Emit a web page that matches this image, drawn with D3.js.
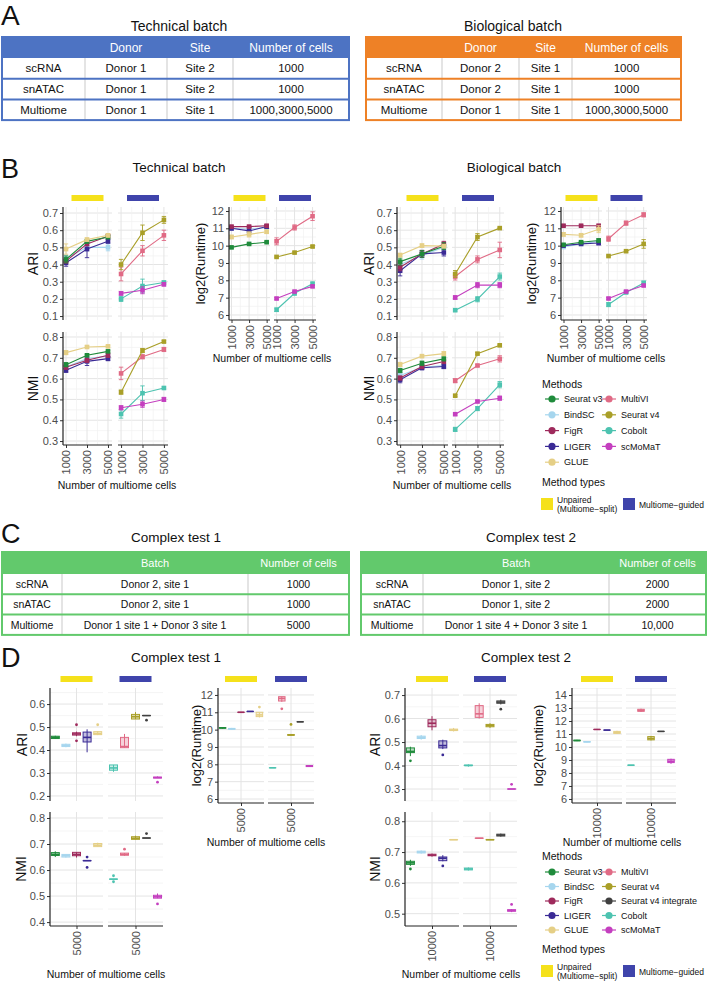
<!DOCTYPE html>
<html>
<head>
<meta charset="utf-8">
<script src="https://cdn.jsdelivr.net/npm/d3@7"></script>
<style>
  body { margin: 0; background: #fff; }
  svg text { font-family: "Liberation Sans", Arial, sans-serif; }
</style>
</head>
<body>
<div id="vis"></div>
<script>
// Multi-panel benchmark figure: tables (A, C), line charts with error bars (B), box plots (D).

// ── Data ──────────────────────────────────────────────────────────────────

const cellCounts = [1000, 3000, 5000];

const unpairedMethods = ["BindSC", "LIGER", "FigR", "Seurat v3", "GLUE"];
const guidedMethods   = ["Cobolt", "scMoMaT", "MultiVI", "Seurat v4"];
const boxUnpaired     = ["Seurat v3", "BindSC", "FigR", "LIGER", "GLUE"];
const boxGuided       = ["Cobolt", "MultiVI", "Seurat v4", "Seurat v4 integrate", "scMoMaT"];

const legendCol1  = ["Seurat v3", "BindSC", "FigR", "LIGER", "GLUE"];
const legendCol2B = ["MultiVI", "Seurat v4", "Cobolt", "scMoMaT"];
const legendCol2D = ["MultiVI", "Seurat v4", "Seurat v4 integrate", "Cobolt", "scMoMaT"];

const tableHeaderA = ["", "Donor", "Site", "Number of cells"];
const techTableRows = [
  ["scRNA", "Donor 1", "Site 2", "1000"],
  ["snATAC", "Donor 1", "Site 2", "1000"],
  ["Multiome", "Donor 1", "Site 1", "1000,3000,5000"],
];
const bioTableRows = [
  ["scRNA", "Donor 2", "Site 1", "1000"],
  ["snATAC", "Donor 2", "Site 1", "1000"],
  ["Multiome", "Donor 1", "Site 1", "1000,3000,5000"],
];
const tableHeaderC = ["", "Batch", "Number of cells"];
const complex1Rows = [
  ["scRNA", "Donor 2, site 1", "1000"],
  ["snATAC", "Donor 2, site 1", "1000"],
  ["Multiome", "Donor 1 site 1 + Donor 3 site 1", "5000"],
];
const complex2Rows = [
  ["scRNA", "Donor 1, site 2", "2000"],
  ["snATAC", "Donor 1, site 2", "2000"],
  ["Multiome", "Donor 1 site 4 + Donor 3 site 1", "10,000"],
];

// B: mean values at 1000 / 3000 / 5000 multiome cells, and error half-widths
const techARI = {
  "Seurat v3": [0.43, 0.535, 0.56], "BindSC": [0.435, 0.50, 0.50], "FigR": [0.42, 0.52, 0.565],
  "LIGER": [0.41, 0.49, 0.535], "GLUE": [0.49, 0.545, 0.57],
  "MultiVI": [0.345, 0.48, 0.57], "Seurat v4": [0.40, 0.585, 0.66],
  "Cobolt": [0.20, 0.275, 0.295], "scMoMaT": [0.232, 0.25, 0.285],
};
const techARIErr = {
  "Seurat v3": [0.02, 0.01, 0.01], "BindSC": [0.02, 0.02, 0.02], "FigR": [0.01, 0.01, 0.01],
  "LIGER": [0.02, 0.05, 0.01], "GLUE": [0.03, 0.01, 0.01],
  "MultiVI": [0.04, 0.03, 0.03], "Seurat v4": [0.03, 0.045, 0.02],
  "Cobolt": [0.015, 0.04, 0.01], "scMoMaT": [0.01, 0.02, 0.01],
};
const techNMI = {
  "Seurat v3": [0.667, 0.712, 0.731], "BindSC": [0.656, 0.696, 0.709], "FigR": [0.655, 0.688, 0.712],
  "LIGER": [0.64, 0.683, 0.696], "GLUE": [0.725, 0.752, 0.755],
  "MultiVI": [0.625, 0.705, 0.74], "Seurat v4": [0.535, 0.735, 0.778],
  "Cobolt": [0.43, 0.53, 0.555], "scMoMaT": [0.46, 0.477, 0.50],
};
const techNMIErr = {
  "Seurat v3": [0.01, 0.005, 0.005], "BindSC": [0.01, 0.02, 0.01], "FigR": [0.01, 0.01, 0.01],
  "LIGER": [0.01, 0.02, 0.01], "GLUE": [0.01, 0.005, 0.005],
  "MultiVI": [0.03, 0.01, 0.01], "Seurat v4": [0.01, 0.01, 0.005],
  "Cobolt": [0.02, 0.035, 0.005], "scMoMaT": [0.01, 0.015, 0.01],
};
const techRuntime = {
  "Seurat v3": [9.9, 10.1, 10.2], "BindSC": [11.0, 10.95, 11.05], "FigR": [11.1, 11.1, 11.15],
  "LIGER": [11.0, 10.85, 11.1], "GLUE": [10.5, 10.65, 10.8],
  "MultiVI": [10.25, 11.05, 11.7], "Seurat v4": [9.35, 9.6, 9.95],
  "Cobolt": [6.3, 7.25, 7.8], "scMoMaT": [6.95, 7.35, 7.65],
};
const techRuntimeErr = {
  "Seurat v3": [0.05, 0.05, 0.05], "BindSC": [0.05, 0.05, 0.05], "FigR": [0.05, 0.05, 0.05],
  "LIGER": [0.1, 0.2, 0.1], "GLUE": [0.1, 0.15, 0.1],
  "MultiVI": [0.2, 0.15, 0.25], "Seurat v4": [0.05, 0.05, 0.05],
  "Cobolt": [0.1, 0.1, 0.1], "scMoMaT": [0.05, 0.05, 0.05],
};
const bioARI = {
  "Seurat v3": [0.417, 0.462, 0.507], "BindSC": [0.40, 0.452, 0.50], "FigR": [0.384, 0.462, 0.52],
  "LIGER": [0.364, 0.462, 0.47], "GLUE": [0.455, 0.51, 0.507],
  "MultiVI": [0.33, 0.43, 0.485], "Seurat v4": [0.345, 0.56, 0.612],
  "Cobolt": [0.134, 0.198, 0.33], "scMoMaT": [0.208, 0.28, 0.28],
};
const bioARIErr = {
  "Seurat v3": [0.02, 0.02, 0.02], "BindSC": [0.02, 0.02, 0.01], "FigR": [0.02, 0.02, 0.015],
  "LIGER": [0.03, 0.02, 0.02], "GLUE": [0.01, 0.01, 0.01],
  "MultiVI": [0.02, 0.02, 0.045], "Seurat v4": [0.02, 0.02, 0.005],
  "Cobolt": [0.005, 0.015, 0.02], "scMoMaT": [0.01, 0.015, 0.015],
};
const bioNMI = {
  "Seurat v3": [0.639, 0.674, 0.695], "BindSC": [0.615, 0.655, 0.663], "FigR": [0.603, 0.658, 0.682],
  "LIGER": [0.595, 0.652, 0.658], "GLUE": [0.668, 0.708, 0.72],
  "MultiVI": [0.59, 0.663, 0.695], "Seurat v4": [0.518, 0.72, 0.76],
  "Cobolt": [0.356, 0.456, 0.571], "scMoMaT": [0.429, 0.49, 0.506],
};
const bioNMIErr = {
  "Seurat v3": [0.01, 0.01, 0.01], "BindSC": [0.01, 0.01, 0.01], "FigR": [0.01, 0.01, 0.01],
  "LIGER": [0.015, 0.01, 0.01], "GLUE": [0.01, 0.005, 0.01],
  "MultiVI": [0.01, 0.005, 0.015], "Seurat v4": [0.005, 0.005, 0.005],
  "Cobolt": [0.01, 0.01, 0.015], "scMoMaT": [0.005, 0.005, 0.01],
};
const bioRuntime = {
  "Seurat v3": [10.05, 10.2, 10.3], "BindSC": [9.92, 10.1, 10.25], "FigR": [11.15, 11.15, 11.15],
  "LIGER": [10.0, 10.1, 10.15], "GLUE": [10.65, 10.6, 10.95],
  "MultiVI": [10.4, 11.3, 11.78], "Seurat v4": [9.4, 9.68, 10.1],
  "Cobolt": [6.6, 7.3, 7.85], "scMoMaT": [6.95, 7.35, 7.7],
};
const bioRuntimeErr = {
  "Seurat v3": [0.05, 0.05, 0.1], "BindSC": [0.05, 0.05, 0.05], "FigR": [0.05, 0.05, 0.05],
  "LIGER": [0.05, 0.05, 0.1], "GLUE": [0.1, 0.1, 0.2],
  "MultiVI": [0.15, 0.12, 0.12], "Seurat v4": [0.05, 0.05, 0.25],
  "Cobolt": [0.12, 0.05, 0.1], "scMoMaT": [0.05, 0.05, 0.05],
};

// D: box statistics [low whisker, q1, median, q3, high whisker, outliers]
const c1ARI = {
  "Seurat v3": [0.448, 0.45, 0.455, 0.46, 0.462, []],
  "BindSC": [0.412, 0.415, 0.42, 0.425, 0.428, []],
  "FigR": [0.46, 0.465, 0.47, 0.475, 0.48, [0.51, 0.44]],
  "LIGER": [0.39, 0.435, 0.455, 0.478, 0.49, []],
  "GLUE": [0.465, 0.467, 0.472, 0.48, 0.482, [0.51]],
  "Cobolt": [0.305, 0.312, 0.322, 0.335, 0.335, []],
  "MultiVI": [0.41, 0.41, 0.415, 0.455, 0.47, []],
  "Seurat v4": [0.535, 0.535, 0.545, 0.555, 0.565, []],
  "Seurat v4 integrate": [0.55, 0.55, 0.55, 0.55, 0.55, [0.53]],
  "scMoMaT": [0.278, 0.278, 0.28, 0.282, 0.285, [0.26]],
};
const c1NMI = {
  "Seurat v3": [0.65, 0.656, 0.66, 0.667, 0.672, []],
  "BindSC": [0.648, 0.65, 0.655, 0.66, 0.66, []],
  "FigR": [0.648, 0.655, 0.66, 0.668, 0.668, []],
  "LIGER": [0.636, 0.636, 0.636, 0.636, 0.636, [0.65, 0.61]],
  "GLUE": [0.69, 0.69, 0.695, 0.702, 0.705, []],
  "Cobolt": [0.565, 0.565, 0.565, 0.565, 0.565, [0.578, 0.555]],
  "MultiVI": [0.655, 0.657, 0.66, 0.665, 0.665, [0.68]],
  "Seurat v4": [0.718, 0.718, 0.722, 0.728, 0.732, []],
  "Seurat v4 integrate": [0.723, 0.723, 0.723, 0.723, 0.723, [0.74]],
  "scMoMaT": [0.492, 0.492, 0.497, 0.503, 0.51, [0.47]],
};
const c1Runtime = {
  "Seurat v3": [10.05, 10.08, 10.1, 10.12, 10.15, []],
  "BindSC": [10.0, 10.02, 10.05, 10.07, 10.1, []],
  "FigR": [11.0, 11.0, 11.0, 11.0, 11.0, []],
  "LIGER": [11.05, 11.05, 11.05, 11.05, 11.05, []],
  "GLUE": [10.7, 10.75, 10.85, 11.0, 11.0, [11.3]],
  "Cobolt": [7.8, 7.8, 7.8, 7.8, 7.8, []],
  "MultiVI": [11.6, 11.65, 11.8, 11.9, 11.9, [11.2]],
  "Seurat v4": [9.65, 9.67, 9.7, 9.72, 9.75, [10.3]],
  "Seurat v4 integrate": [10.45, 10.45, 10.45, 10.45, 10.45, []],
  "scMoMaT": [7.85, 7.87, 7.9, 7.93, 7.95, []],
};
const c2ARI = {
  "Seurat v3": [0.44, 0.455, 0.46, 0.475, 0.48, [0.42]],
  "BindSC": [0.51, 0.515, 0.52, 0.525, 0.53, []],
  "FigR": [0.55, 0.565, 0.58, 0.595, 0.61, []],
  "LIGER": [0.47, 0.475, 0.485, 0.505, 0.51, [0.445]],
  "GLUE": [0.545, 0.55, 0.55, 0.555, 0.56, []],
  "Cobolt": [0.395, 0.40, 0.40, 0.402, 0.405, []],
  "MultiVI": [0.60, 0.605, 0.62, 0.655, 0.665, []],
  "Seurat v4": [0.56, 0.565, 0.57, 0.575, 0.58, []],
  "Seurat v4 integrate": [0.66, 0.665, 0.67, 0.675, 0.68, [0.64]],
  "scMoMaT": [0.30, 0.30, 0.30, 0.30, 0.30, [0.32]],
};
const c2NMI = {
  "Seurat v3": [0.655, 0.66, 0.665, 0.67, 0.675, [0.645]],
  "BindSC": [0.695, 0.697, 0.70, 0.703, 0.705, []],
  "FigR": [0.685, 0.688, 0.69, 0.693, 0.695, []],
  "LIGER": [0.67, 0.672, 0.68, 0.684, 0.69, [0.655]],
  "GLUE": [0.74, 0.74, 0.74, 0.74, 0.74, []],
  "Cobolt": [0.64, 0.642, 0.645, 0.648, 0.65, []],
  "MultiVI": [0.745, 0.745, 0.745, 0.745, 0.745, []],
  "Seurat v4": [0.74, 0.74, 0.74, 0.74, 0.74, []],
  "Seurat v4 integrate": [0.75, 0.752, 0.755, 0.758, 0.76, []],
  "scMoMaT": [0.505, 0.508, 0.51, 0.513, 0.515, [0.53]],
};
const c2Runtime = {
  "Seurat v3": [10.45, 10.48, 10.5, 10.52, 10.55, []],
  "BindSC": [10.35, 10.38, 10.4, 10.42, 10.45, []],
  "FigR": [11.35, 11.35, 11.35, 11.35, 11.35, []],
  "LIGER": [11.3, 11.3, 11.3, 11.3, 11.3, []],
  "GLUE": [11.0, 11.05, 11.1, 11.2, 11.25, []],
  "Cobolt": [8.6, 8.6, 8.6, 8.6, 8.6, []],
  "MultiVI": [12.7, 12.75, 12.8, 12.9, 12.95, []],
  "Seurat v4": [10.5, 10.55, 10.65, 10.8, 10.85, []],
  "Seurat v4 integrate": [11.2, 11.2, 11.2, 11.2, 11.2, []],
  "scMoMaT": [8.7, 8.8, 8.9, 9.05, 9.1, []],
};

const ariTicksB = [0.1, 0.2, 0.3, 0.4, 0.5, 0.6, 0.7];
const nmiTicksB = [0.3, 0.4, 0.5, 0.6, 0.7, 0.8];
const runtimeTicks = [6, 7, 8, 9, 10, 11, 12];
const ariTicksD1 = [0.2, 0.3, 0.4, 0.5, 0.6];
const nmiTicksD1 = [0.4, 0.5, 0.6, 0.7, 0.8];
const ariTicksD2 = [0.3, 0.4, 0.5, 0.6, 0.7];
const nmiTicksD2 = [0.5, 0.6, 0.7, 0.8];
const runtimeTicksD2 = [6, 7, 8, 9, 10, 11, 12, 13, 14];

// ── Styles ────────────────────────────────────────────────────────────────

const methodColor = {
  "Seurat v3": "#1f8b3b", "BindSC": "#a6d6ee", "FigR": "#9e2a5c", "LIGER": "#3a2a95",
  "GLUE": "#e5cf86", "MultiVI": "#e06a85", "Seurat v4": "#a99f28",
  "Seurat v4 integrate": "#404040", "Cobolt": "#4dc3b0", "scMoMaT": "#c43fbf",
};
const YELLOW = "#f5e11b", BLUE = "#3f44ab";
const GRID = "#e4e4e4", GRID_MINOR = "#f1f1f1", TICK_TEXT = "#4d4d4d";

const W = 708, H = 995;
const svg = d3.select("#vis").append("svg").attr("width", W).attr("height", H);

function label(x, y, txt, size, opts = {}) {
  const t = svg.append("text").attr("x", x).attr("y", y)
    .attr("font-size", size).attr("fill", opts.fill || "#111")
    .attr("text-anchor", opts.anchor || "middle").text(txt);
  if (opts.rotate) t.attr("transform", `rotate(-90,${x},${y})`);
  return t;
}

// ── Tables ────────────────────────────────────────────────────────────────

function drawTable(cols, y0, headerH, rowH, header, rows, color, fs) {
  const g = svg.append("g");
  const x0 = cols[0], x1 = cols[cols.length - 1];
  const yEnd = y0 + headerH + rowH * rows.length;
  g.append("rect").attr("x", x0).attr("y", y0).attr("width", x1 - x0).attr("height", yEnd - y0).attr("fill", "#fff");
  g.append("rect").attr("x", x0).attr("y", y0).attr("width", x1 - x0).attr("height", headerH).attr("fill", color);
  cols.slice(1, -1).forEach(c => g.append("line")
    .attr("x1", c).attr("x2", c).attr("y1", y0 + headerH).attr("y2", yEnd)
    .attr("stroke", "#c9c9c9").attr("stroke-width", 1));
  rows.forEach((r, i) => {
    if (i > 0) g.append("line").attr("x1", x0).attr("x2", x1)
      .attr("y1", y0 + headerH + i * rowH).attr("y2", y0 + headerH + i * rowH)
      .attr("stroke", color).attr("stroke-width", 2);
  });
  g.append("rect").attr("x", x0).attr("y", y0).attr("width", x1 - x0).attr("height", yEnd - y0)
    .attr("fill", "none").attr("stroke", color).attr("stroke-width", 2);
  header.forEach((h, i) => g.append("text")
    .attr("x", (cols[i] + cols[i + 1]) / 2).attr("y", y0 + headerH / 2 + fs * 0.36)
    .attr("text-anchor", "middle").attr("font-size", fs + 0.5).attr("fill", "#fff").text(h));
  rows.forEach((r, ri) => r.forEach((cell, i) => g.append("text")
    .attr("x", (cols[i] + cols[i + 1]) / 2).attr("y", y0 + headerH + ri * rowH + rowH / 2 + fs * 0.36)
    .attr("text-anchor", "middle").attr("font-size", fs).attr("fill", "#111").text(cell)));
}

// ── Line panels (B) ───────────────────────────────────────────────────────

const xDomainB = [714, 5381];

function yAxis(g, y, x0, ticks, fmt, top, bottom) {
  g.append("g").attr("transform", `translate(${x0},0)`)
    .call(d3.axisLeft(y).tickValues(ticks).tickSize(3).tickPadding(2).tickFormat(fmt))
    .call(a => a.select(".domain").remove())
    .call(a => a.selectAll("line").attr("stroke", "#333"))
    .call(a => a.selectAll("text").attr("font-size", 11).attr("fill", TICK_TEXT)
      .style("font-family", '"Liberation Sans", Arial, sans-serif'));
  g.append("line").attr("x1", x0).attr("x2", x0).attr("y1", top).attr("y2", bottom)
    .attr("stroke", "#222").attr("stroke-width", 1.2);
}

function hGrid(g, y, ticks, x0, x1, top, bottom) {
  const step = ticks[1] - ticks[0];
  const minor = [ticks[0] - step / 2, ...ticks.map(t => t + step / 2)]
    .filter(t => y(t) >= top && y(t) <= bottom);
  minor.forEach(t => g.append("line").attr("x1", x0).attr("x2", x1).attr("y1", y(t)).attr("y2", y(t))
    .attr("stroke", GRID_MINOR).attr("stroke-width", 0.7));
  ticks.forEach(t => g.append("line").attr("x1", x0).attr("x2", x1).attr("y1", y(t)).attr("y2", y(t))
    .attr("stroke", GRID).attr("stroke-width", 1));
}

function xAxisRotated(g, x, bottom, values, fmt, x0, x1) {
  g.append("g").attr("transform", `translate(0,${bottom})`)
    .call(d3.axisBottom(x).tickValues(values).tickSize(3).tickFormat(fmt))
    .call(a => a.select(".domain").remove())
    .call(a => a.selectAll("line").attr("stroke", "#333"))
    .call(a => a.selectAll("text")
      .attr("transform", "rotate(-90)").attr("x", -5).attr("y", 0).attr("dy", "0.36em")
      .attr("text-anchor", "end").attr("font-size", 11).attr("fill", TICK_TEXT)
      .style("font-family", '"Liberation Sans", Arial, sans-serif'));
  g.append("line").attr("x1", x0).attr("x2", x1).attr("y1", bottom).attr("y2", bottom)
    .attr("stroke", "#222").attr("stroke-width", 1.2);
}

function linePanel(o) {
  const y = d3.scaleLinear().domain(o.yDomain).range([o.bottom, o.top]);
  const g = svg.append("g");
  const groups = [unpairedMethods, guidedMethods];
  o.facets.forEach(([fx0, fx1], fi) => {
    const x = d3.scaleLinear().domain(xDomainB).range([fx0, fx1]);
    hGrid(g, y, o.ticks, fx0, fx1, o.top, o.bottom);
    [2000, 4000].forEach(v => g.append("line").attr("x1", x(v)).attr("x2", x(v))
      .attr("y1", o.top).attr("y2", o.bottom).attr("stroke", GRID_MINOR).attr("stroke-width", 0.7));
    cellCounts.forEach(v => g.append("line").attr("x1", x(v)).attr("x2", x(v))
      .attr("y1", o.top).attr("y2", o.bottom).attr("stroke", GRID).attr("stroke-width", 1));
    if (o.strip) g.append("rect").attr("x", (fx0 + fx1) / 2 - 16).attr("y", o.strip)
      .attr("width", 32).attr("height", 6).attr("fill", fi ? BLUE : YELLOW);
    if (o.xAxis) xAxisRotated(g, x, o.bottom, cellCounts, d3.format("d"), fx0, fx1);

    groups[fi].forEach(m => {
      const c = methodColor[m], vals = o.data[m], errs = o.err[m];
      g.append("path").datum(vals)
        .attr("d", d3.line().x((d, i) => x(cellCounts[i])).y(d => y(d)))
        .attr("fill", "none").attr("stroke", c).attr("stroke-width", 1.1);
      vals.forEach((v, i) => {
        const cx = x(cellCounts[i]);
        const lo = y(v - errs[i]), hi = y(v + errs[i]);
        g.append("line").attr("x1", cx).attr("x2", cx).attr("y1", lo).attr("y2", hi)
          .attr("stroke", c).attr("stroke-width", 0.9);
        [lo, hi].forEach(yy => g.append("line").attr("x1", cx - 2.2).attr("x2", cx + 2.2)
          .attr("y1", yy).attr("y2", yy).attr("stroke", c).attr("stroke-width", 0.9));
        g.append("rect").attr("x", cx - 2.3).attr("y", y(v) - 2.3)
          .attr("width", 4.6).attr("height", 4.6).attr("fill", c);
      });
    });
  });
  yAxis(g, y, o.facets[0][0], o.ticks, o.fmt, o.top, o.bottom);
  label(o.titleX, (o.top + o.bottom) / 2, o.title, o.titleSize || 14, { rotate: true });
}

// ── Box panels (D) ────────────────────────────────────────────────────────

function boxPanel(o) {
  const y = d3.scaleLinear().domain(o.yDomain).range([o.bottom, o.top]);
  const g = svg.append("g");
  const groups = [boxUnpaired, boxGuided];
  o.facets.forEach(([fx0, fx1], fi) => {
    const x = d3.scalePoint().domain(groups[fi]).range([fx0, fx1]).padding(0.5 + o.pad);
    const center = d3.scalePoint().domain([o.xLabel]).range([fx0, fx1]).padding(0.5);
    hGrid(g, y, o.ticks, fx0, fx1, o.top, o.bottom);
    g.append("line").attr("x1", center(o.xLabel)).attr("x2", center(o.xLabel))
      .attr("y1", o.top).attr("y2", o.bottom).attr("stroke", GRID).attr("stroke-width", 1);
    if (o.strip) g.append("rect").attr("x", (fx0 + fx1) / 2 - 16).attr("y", o.strip)
      .attr("width", 32).attr("height", 6).attr("fill", fi ? BLUE : YELLOW);
    if (o.xAxis) xAxisRotated(g, center, o.bottom, [o.xLabel], d => d, fx0, fx1);

    groups[fi].forEach(m => {
      const [lo, q1, med, q3, hi, outs] = o.data[m];
      const c = methodColor[m], cx = x(m), bw = o.boxW;
      g.append("line").attr("x1", cx).attr("x2", cx).attr("y1", y(lo)).attr("y2", y(hi))
        .attr("stroke", c).attr("stroke-width", 1);
      g.append("rect").attr("x", cx - bw / 2).attr("y", y(q3)).attr("width", bw)
        .attr("height", Math.max(0.01, y(q1) - y(q3)))
        .attr("fill", c).attr("fill-opacity", 0.3).attr("stroke", c).attr("stroke-width", 1);
      g.append("line").attr("x1", cx - bw / 2).attr("x2", cx + bw / 2).attr("y1", y(med)).attr("y2", y(med))
        .attr("stroke", c).attr("stroke-width", 1.6);
      outs.forEach(v => g.append("circle").attr("cx", cx).attr("cy", y(v)).attr("r", 1.4).attr("fill", c));
    });
  });
  yAxis(g, y, o.facets[0][0], o.ticks, o.fmt, o.top, o.bottom);
  label(o.titleX, (o.top + o.bottom) / 2, o.title, o.titleSize || 14, { rotate: true });
}

// ── Legend ────────────────────────────────────────────────────────────────

function legend(x, titleY, rowY, rowStep, col2, typesY) {
  label(x, titleY, "Methods", 10.5, { anchor: "start" });
  [[legendCol1, x + 10], [col2, x + 67]].forEach(([list, kx]) => {
    list.forEach((m, i) => {
      const yy = rowY + i * rowStep;
      svg.append("line").attr("x1", kx - 7).attr("x2", kx + 7).attr("y1", yy).attr("y2", yy)
        .attr("stroke", methodColor[m]).attr("stroke-width", 1.2);
      svg.append("circle").attr("cx", kx).attr("cy", yy).attr("r", 3.6).attr("fill", methodColor[m]);
      label(kx + 12, yy + 3.2, m, 9, { anchor: "start" });
    });
  });
  label(x, typesY, "Method types", 10.5, { anchor: "start" });
  svg.append("rect").attr("x", x - 1).attr("y", typesY + 12).attr("width", 12).attr("height", 12).attr("fill", YELLOW);
  label(x + 15, typesY + 16.5, "Unpaired", 8.5, { anchor: "start" });
  label(x + 15, typesY + 26, "(Multiome\u2212split)", 8.5, { anchor: "start" });
  svg.append("rect").attr("x", x + 81).attr("y", typesY + 12).attr("width", 12).attr("height", 12).attr("fill", BLUE);
  label(x + 97, typesY + 21.5, "Multiome\u2212guided", 8.5, { anchor: "start" });
}

// ── Panel A ───────────────────────────────────────────────────────────────

label(1, 25, "A", 28, { anchor: "start" });
label(179, 31, "Technical batch", 14);
label(513, 31, "Biological batch", 14);
drawTable([2, 85, 167, 233, 349], 37, 21, 20.7, tableHeaderA, techTableRows, "#4d73c3", 11.5);
drawTable([366, 442, 519, 572, 681], 37, 21, 20.7, tableHeaderA, bioTableRows, "#ee8126", 11.5);

// ── Panel B ───────────────────────────────────────────────────────────────

label(1, 178, "B", 27, { anchor: "start" });
label(179, 172, "Technical batch", 13.5);
label(514, 172, "Biological batch", 13.5);

const ariDomB = [0.077, 0.735], nmiDomB = [0.281, 0.824], rtDomB = [5.71, 12.23];
const f1 = d3.format(".1f"), fd = d3.format("d");

linePanel({ facets: [[63, 112], [118, 168]], top: 207, bottom: 320, yDomain: ariDomB, ticks: ariTicksB,
  fmt: f1, data: techARI, err: techARIErr, strip: 195, title: "ARI", titleX: 38 });
linePanel({ facets: [[63, 112], [118, 168]], top: 332, bottom: 445, yDomain: nmiDomB, ticks: nmiTicksB,
  fmt: f1, data: techNMI, err: techNMIErr, xAxis: true, title: "NMI", titleX: 38 });
linePanel({ facets: [[229, 270], [274, 316]], top: 207, bottom: 320, yDomain: rtDomB, ticks: runtimeTicks,
  fmt: fd, data: techRuntime, err: techRuntimeErr, strip: 195, xAxis: true, title: "log2(Runtime)",
  titleX: 205, titleSize: 13 });
label(117, 489, "Number of multiome cells", 10.5);
label(272, 362, "Number of multiome cells", 10.5);

linePanel({ facets: [[397, 448], [452, 504]], top: 207, bottom: 320, yDomain: ariDomB, ticks: ariTicksB,
  fmt: f1, data: bioARI, err: bioARIErr, strip: 195, title: "ARI", titleX: 374 });
linePanel({ facets: [[397, 448], [452, 504]], top: 332, bottom: 445, yDomain: nmiDomB, ticks: nmiTicksB,
  fmt: f1, data: bioNMI, err: bioNMIErr, xAxis: true, title: "NMI", titleX: 374 });
linePanel({ facets: [[561, 602], [606, 647]], top: 207, bottom: 320, yDomain: rtDomB, ticks: runtimeTicks,
  fmt: fd, data: bioRuntime, err: bioRuntimeErr, strip: 195, xAxis: true, title: "log2(Runtime)",
  titleX: 536, titleSize: 13 });
label(452, 489, "Number of multiome cells", 10.5);
label(606, 362, "Number of multiome cells", 10.5);

legend(542, 388, 399, 15.8, legendCol2B, 486);

// ── Panel C ───────────────────────────────────────────────────────────────

label(1, 543, "C", 27, { anchor: "start" });
label(176, 542, "Complex test 1", 13.5);
label(531, 542, "Complex test 2", 13.5);
drawTable([2, 62, 248, 349], 552, 22, 20.3, tableHeaderC, complex1Rows, "#62c96c", 10.5);
drawTable([361, 423, 609, 706], 552, 22, 20.3, tableHeaderC, complex2Rows, "#62c96c", 10.5);

// ── Panel D ───────────────────────────────────────────────────────────────

label(1, 667, "D", 27, { anchor: "start" });
label(176, 662, "Complex test 1", 13.5);
label(526, 662, "Complex test 2", 13.5);

boxPanel({ facets: [[50, 103], [108, 163]], top: 688, bottom: 801, yDomain: [0.178, 0.67], ticks: ariTicksD1,
  fmt: f1, data: c1ARI, strip: 676, xLabel: "5000", pad: 0.0, boxW: 8, title: "ARI", titleX: 27 });
boxPanel({ facets: [[50, 103], [108, 163]], top: 812, bottom: 926, yDomain: [0.385, 0.823], ticks: nmiTicksD1,
  fmt: f1, data: c1NMI, xAxis: true, xLabel: "5000", pad: 0.0, boxW: 8, title: "NMI", titleX: 26 });
boxPanel({ facets: [[218, 264], [268, 314]], top: 688, bottom: 803, yDomain: [5.77, 12.4], ticks: runtimeTicks,
  fmt: fd, data: c1Runtime, strip: 676, xAxis: true, xLabel: "5000", pad: 0.0, boxW: 6.5,
  title: "log2(Runtime)", titleX: 201, titleSize: 13 });
label(106, 978, "Number of multiome cells", 10.5);
label(266, 846, "Number of multiome cells", 10.5);

boxPanel({ facets: [[405, 459], [463, 517]], top: 688, bottom: 801, yDomain: [0.249, 0.73], ticks: ariTicksD2,
  fmt: f1, data: c2ARI, strip: 676, xLabel: "10000", pad: 0.0, boxW: 8, title: "ARI", titleX: 380 });
boxPanel({ facets: [[405, 459], [463, 517]], top: 812, bottom: 926, yDomain: [0.46, 0.83], ticks: nmiTicksD2,
  fmt: f1, data: c2NMI, xAxis: true, xLabel: "10000", pad: 0.0, boxW: 8, title: "NMI", titleX: 380 });
boxPanel({ facets: [[572, 622], [626, 676]], top: 688, bottom: 803, yDomain: [5.69, 14.54], ticks: runtimeTicksD2,
  fmt: fd, data: c2Runtime, strip: 676, xAxis: true, xLabel: "10000", pad: 0.0, boxW: 6.5,
  title: "log2(Runtime)", titleX: 543, titleSize: 13 });
label(461, 978, "Number of multiome cells", 10.5);
label(622, 846, "Number of multiome cells", 10.5);

legend(542, 860, 872, 14.5, legendCol2D, 953);
</script>
</body>
</html>
